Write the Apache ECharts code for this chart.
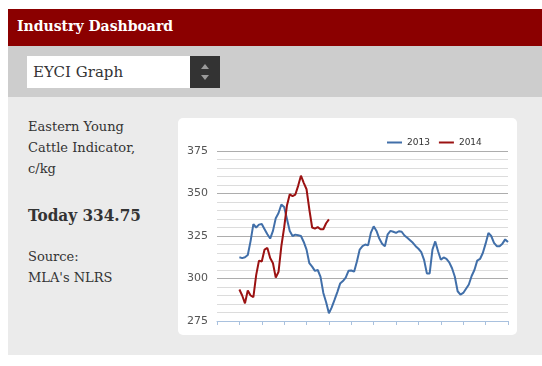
<!DOCTYPE html>
<html><head><meta charset="utf-8">
<script src="https://cdn.jsdelivr.net/npm/echarts@6/dist/echarts.min.js"></script>
<style>
html,body{margin:0;padding:0;background:#fff;width:542px;height:366px;overflow:hidden;font-family:"DejaVu Serif",serif;}
#hdr{position:absolute;left:8px;top:9px;width:534px;height:37px;background:#8b0000;}
#hdr span{position:absolute;left:9px;top:9px;color:#fff;font-weight:bold;font-size:14px;white-space:nowrap;}
#bar{position:absolute;left:8px;top:46px;width:534px;height:51px;background:#cdcdcd;}
#sel{position:absolute;left:27px;top:56px;width:163px;height:32px;background:#fff;}
#sel span{position:absolute;left:6px;top:7px;font-size:15px;color:#333;white-space:nowrap;}
#btn{position:absolute;left:190px;top:56px;width:30px;height:32px;background:#333;}
#panel{position:absolute;left:8px;top:97px;width:534px;height:258px;background:#ebebeb;}
#chart{position:absolute;left:178px;top:118px;width:339px;height:217px;background:#fff;border-radius:5px;}
.t{position:absolute;left:28px;color:#333;font-size:13px;white-space:nowrap;}
</style>
</head><body>
<div id="hdr"><span>Industry Dashboard</span></div>
<div id="bar"></div>
<div id="sel"><span>EYCI Graph</span></div>
<div id="btn"><svg width="30" height="32"><polygon points="11,13 19,13 15,8" fill="#9a9a9a"/><polygon points="11,19 19,19 15,24" fill="#9a9a9a"/></svg></div>
<div id="panel"></div>
<div class="t" style="top:119px">Eastern Young</div>
<div class="t" style="top:140px">Cattle Indicator,</div>
<div class="t" style="top:161px">c/kg</div>
<div class="t" style="top:205px;font-size:17px;font-weight:bold;font-family:'DejaVu Serif Condensed','DejaVu Serif',serif;">Today 334.75</div>
<div class="t" style="top:249px">Source:</div>
<div class="t" style="top:270px">MLA's NLRS</div>
<div id="chart"></div>
<script>
const seriesNames = ['2013', '2014'];
const yTicks = [275, 300, 325, 350, 375];
const categories = Array.from({length: 105}, (_, i) => String(i));
const eyci2013 = [null, null, null, null, null, null, null, null,
  312.5, 312, 312.5, 313.8, 322, 332, 330, 331.7, 332, 329, 326, 323.5, 328, 335.5, 338.5, 343.5, 342,
  335, 328, 325, 325.8, 325.4, 325, 321.5, 317, 309, 307, 304.5, 305, 301, 291.5, 286, 279.5,
  283, 287.4, 292, 297, 298.5, 300.5, 304.5, 304.7, 304, 310, 317, 319, 320, 319.5, 327, 330.7,
  328, 323.5, 320.5, 319, 326, 328, 327.5, 326.8, 327.8, 327.5, 325.3, 324, 322.5, 321, 319, 317.5,
  315.5, 311, 303, 303, 317, 321.8, 316, 311, 312.4, 311.5, 309.5, 306, 301, 292.5, 290.5, 291.5,
  294, 296.5, 301.5, 305, 310.5, 311.5, 315, 320.5, 326.8, 325, 321, 319, 319, 320.5, 323, 321.5];
const eyci2014 = [null, null, null, null, null, null, null, null,
  293.5, 290, 285.4, 293, 290, 289, 302, 310.5, 310, 317, 318, 312, 309, 300.5, 304, 319, 330,
  343, 349.5, 348.5, 349.4, 354.5, 360.5, 356.3, 352.5, 340.6, 330, 329.3, 330.2, 329, 329, 332.5, 334.75];

const chart = echarts.init(document.getElementById('chart'), null, {renderer: 'canvas'});
chart.setOption({
  animation: false,
  backgroundColor: 'transparent',
  legend: {
    data: seriesNames, left: 204, top: 15, icon: 'rect', itemWidth: 15, itemHeight: 2, itemGap: 9,
    textStyle: {fontSize: 9, color: '#333', fontFamily: 'DejaVu Sans'}
  },
  grid: {left: 39, right: 9, top: 33, bottom: 14},
  xAxis: {
    type: 'category', data: categories, boundaryGap: false,
    axisLine: {lineStyle: {color: '#a9c1de', width: 1}},
    axisTick: {show: true, interval: 7, length: 4, lineStyle: {color: '#a9c1de'}},
    axisLabel: {show: false}, splitLine: {show: false}
  },
  yAxis: {
    type: 'value', min: yTicks[0], max: yTicks[yTicks.length - 1], interval: 25,
    axisLine: {show: false}, axisTick: {show: false},
    axisLabel: {fontSize: 11, color: '#555', fontFamily: 'DejaVu Sans', margin: 9},
    splitLine: {lineStyle: {color: '#adadad', width: 1}},
    minorTick: {show: false, splitNumber: 5},
    minorSplitLine: {show: true, lineStyle: {color: '#dcdcdc', width: 1}}
  },
  series: [
    {name: seriesNames[0], type: 'line', data: eyci2013, symbol: 'none', connectNulls: false,
     lineStyle: {color: '#416fa9', width: 2}, itemStyle: {color: '#416fa9'}},
    {name: seriesNames[1], type: 'line', data: eyci2014, symbol: 'none',
     lineStyle: {color: '#9b1212', width: 2}, itemStyle: {color: '#9b1212'}}
  ]
});
</script>
</body></html>
